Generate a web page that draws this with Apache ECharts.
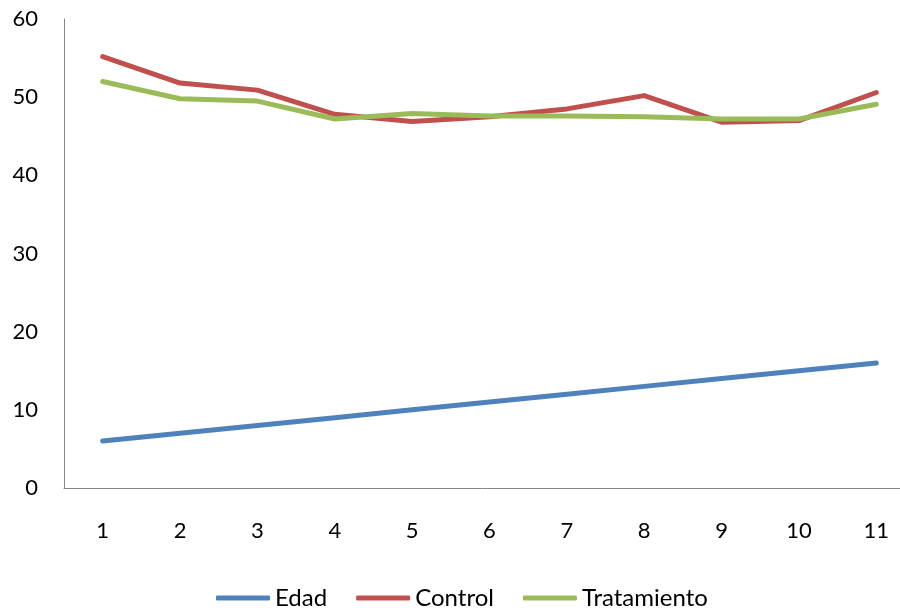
<!DOCTYPE html>
<html><head><meta charset="utf-8">
<script src="https://cdn.jsdelivr.net/npm/echarts@6/dist/echarts.min.js"></script>
<style>html,body{margin:0;padding:0;background:#fff}#c{width:900px;height:610px}</style>
</head><body><div id="c"></div>
<script>
var categories = ['1','2','3','4','5','6','7','8','9','10','11'];
var edad = [6,7,8,9,10,11,12,13,14,15,16];
var control = [55.2,51.8,50.9,47.8,46.9,47.5,48.5,50.2,46.8,47.0,50.6];
var tratamiento = [52.0,49.8,49.5,47.2,47.9,47.6,47.6,47.5,47.2,47.2,49.1];
var yTicks = {min:0, max:60, interval:10};

var font = 'Lato, "Open Sans", sans-serif';
var chart = echarts.init(document.getElementById('c'));
function s(name, data, color){
  return {name:name, type:'line', data:data, symbol:'none', smooth:false,
    lineStyle:{width:5, color:color, cap:'round', join:'round'}, itemStyle:{color:color}};
}
chart.setOption({
  animation:false,
  grid:{left:64, width:851, top:19, bottom:122, containLabel:false, outerBoundsMode:'none'},
  legend:{left:216, top:586, padding:0, itemWidth:54, itemHeight:5, itemGap:29, icon:'roundRect',
    textStyle:{fontFamily:font, fontSize:24, color:'#000'},
    data:['Edad','Control','Tratamiento']},
  xAxis:{type:'category', data:categories, boundaryGap:true,
    axisLine:{lineStyle:{color:'#868686', width:1}}, axisTick:{show:false},
    axisLabel:{fontFamily:font, fontSize:22, color:'#000', margin:32}},
  yAxis:{type:'value', min:yTicks.min, max:yTicks.max, interval:yTicks.interval,
    axisLine:{show:true, lineStyle:{color:'#868686', width:1}}, axisTick:{show:false},
    splitLine:{show:false},
    axisLabel:{fontFamily:font, fontSize:22, color:'#000', margin:26}},
  series:[s('Edad', edad, '#4F81BD'), s('Control', control, '#C0504D'), s('Tratamiento', tratamiento, '#9BBB59')]
});
</script></body></html>
